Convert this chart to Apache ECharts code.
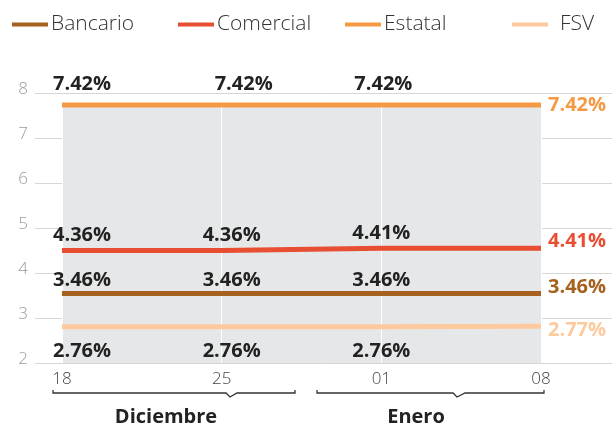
<!DOCTYPE html>
<html>
<head>
<meta charset="utf-8">
<script src="https://cdn.jsdelivr.net/npm/echarts@6/dist/echarts.min.js"></script>
<style>
  html, body { margin: 0; padding: 0; background: #fff; }
  #chart { width: 612px; height: 431px; }
</style>
</head>
<body>
<div id="chart"></div>
<script>
// datos
const dates = ['18', '25', '01', '08'];
const months = ['Diciembre', 'Enero'];
const bancario = [3.46, 3.46, 3.46, 3.46];
const comercial = [4.36, 4.36, 4.41, 4.41];
const estatal = [7.42, 7.42, 7.42, 7.42];
const fsv = [2.76, 2.76, 2.76, 2.77];
const yTickMin = 2, yTickMax = 8;

const font = 'Open Sans';
const names = ['Bancario', 'Comercial', 'Estatal', 'FSV'];
const values = [bancario, comercial, estatal, fsv];
const colors = ['#a5611d', '#e84e32', '#f59a42', '#fdca9e'];
// desplazamientos de etiquetas (px)
const lblDx = [[20, 10, 0], [20, 10, 0], [20, 22, 2], [20, 10, 0]];
const lblDy = [-13, -15, -21, 24];
const endDy = [-6, -7, 0, 4];
const legendLeft = [12, 178, 345, 512];

let chart = echarts.init(document.getElementById('chart'));

const series = values.map(function (arr, s) {
  return {
    name: names[s],
    type: 'line',
    xAxisIndex: 1,
    yAxisIndex: 1,
    z: 3,
    symbol: 'circle',
    symbolSize: 0.1,
    lineStyle: { color: colors[s], width: 5 },
    itemStyle: { color: colors[s] },
    emphasis: { disabled: true },
    data: arr.map(function (v, i) {
      if (i < arr.length - 1) {
        return {
          value: v,
          label: {
            show: true, position: 'inside', offset: [lblDx[s][i], lblDy[s]],
            formatter: v.toFixed(2) + '%',
            color: '#222', fontFamily: font, fontWeight: 'bold', fontSize: 20
          }
        };
      }
      return {
        value: v,
        label: {
          show: true, position: 'right', distance: 7, offset: [0, endDy[s]],
          formatter: v.toFixed(2) + '%',
          color: colors[s], fontFamily: font, fontWeight: 'bold', fontSize: 20
        }
      };
    })
  };
});

chart.setOption({
  animation: false,
  legend: names.map(function (n, i) {
    return {
      data: [n], left: legendLeft[i], top: 14, padding: 0,
      icon: 'rect', itemWidth: 36, itemHeight: 4, itemGap: 0,
      selectedMode: false,
      textStyle: {
        fontFamily: font, fontSize: 21, fontWeight: 300, color: '#333',
        padding: i === 3 ? [0, 0, 0, 7] : [0, 0, 0, -2]
      }
    };
  }),
  grid: [
    { left: 35, right: 0, top: 93, bottom: 68 },
    { left: 62, right: 71, top: 103, bottom: 68, show: true, z: 1,
      backgroundColor: '#e6e7e9', borderWidth: 0 }
  ],
  xAxis: [
    { type: 'value', gridIndex: 0, show: false, min: 0, max: 1 },
    {
      type: 'category', gridIndex: 1, data: dates, boundaryGap: false, z: 2,
      axisLine: { show: false }, axisTick: { show: false },
      splitLine: { show: true, lineStyle: { color: '#fff', width: 1 } },
      axisLabel: { margin: 8, fontFamily: font, fontSize: 17, fontWeight: 300, color: '#444' }
    }
  ],
  yAxis: [
    {
      type: 'value', gridIndex: 0, min: yTickMin, max: yTickMax, interval: 1, z: 0,
      axisLine: { show: false }, axisTick: { show: false },
      splitLine: { lineStyle: { color: '#d6d6d6', width: 1 } },
      axisLabel: {
        margin: 7, fontFamily: font, fontSize: 17, fontWeight: 300, color: '#9a9a9a',
        verticalAlign: 'bottom', lineHeight: 8
      }
    },
    { type: 'value', gridIndex: 1, min: 2, max: 7.46, show: false }
  ],
  series: series,
  graphic: [
    { type: 'polyline', shape: { points: [[53, 390], [53, 393], [226, 393], [230, 397], [237, 393], [295, 393], [295, 390]] },
      style: { stroke: '#333', lineWidth: 1.3, fill: null } },
    { type: 'polyline', shape: { points: [[317, 390], [317, 393], [453, 393], [457, 397], [465, 393], [544, 393], [544, 390]] },
      style: { stroke: '#333', lineWidth: 1.3, fill: null } },
    { type: 'text', x: 166, y: 417, style: { text: months[0], fontFamily: font, fontWeight: 'bold', fontSize: 20, fill: '#222', textAlign: 'center', textVerticalAlign: 'middle' } },
    { type: 'text', x: 416, y: 417, style: { text: months[1], fontFamily: font, fontWeight: 'bold', fontSize: 20, fill: '#222', textAlign: 'center', textVerticalAlign: 'middle' } }
  ]
});
</script>
</body>
</html>
